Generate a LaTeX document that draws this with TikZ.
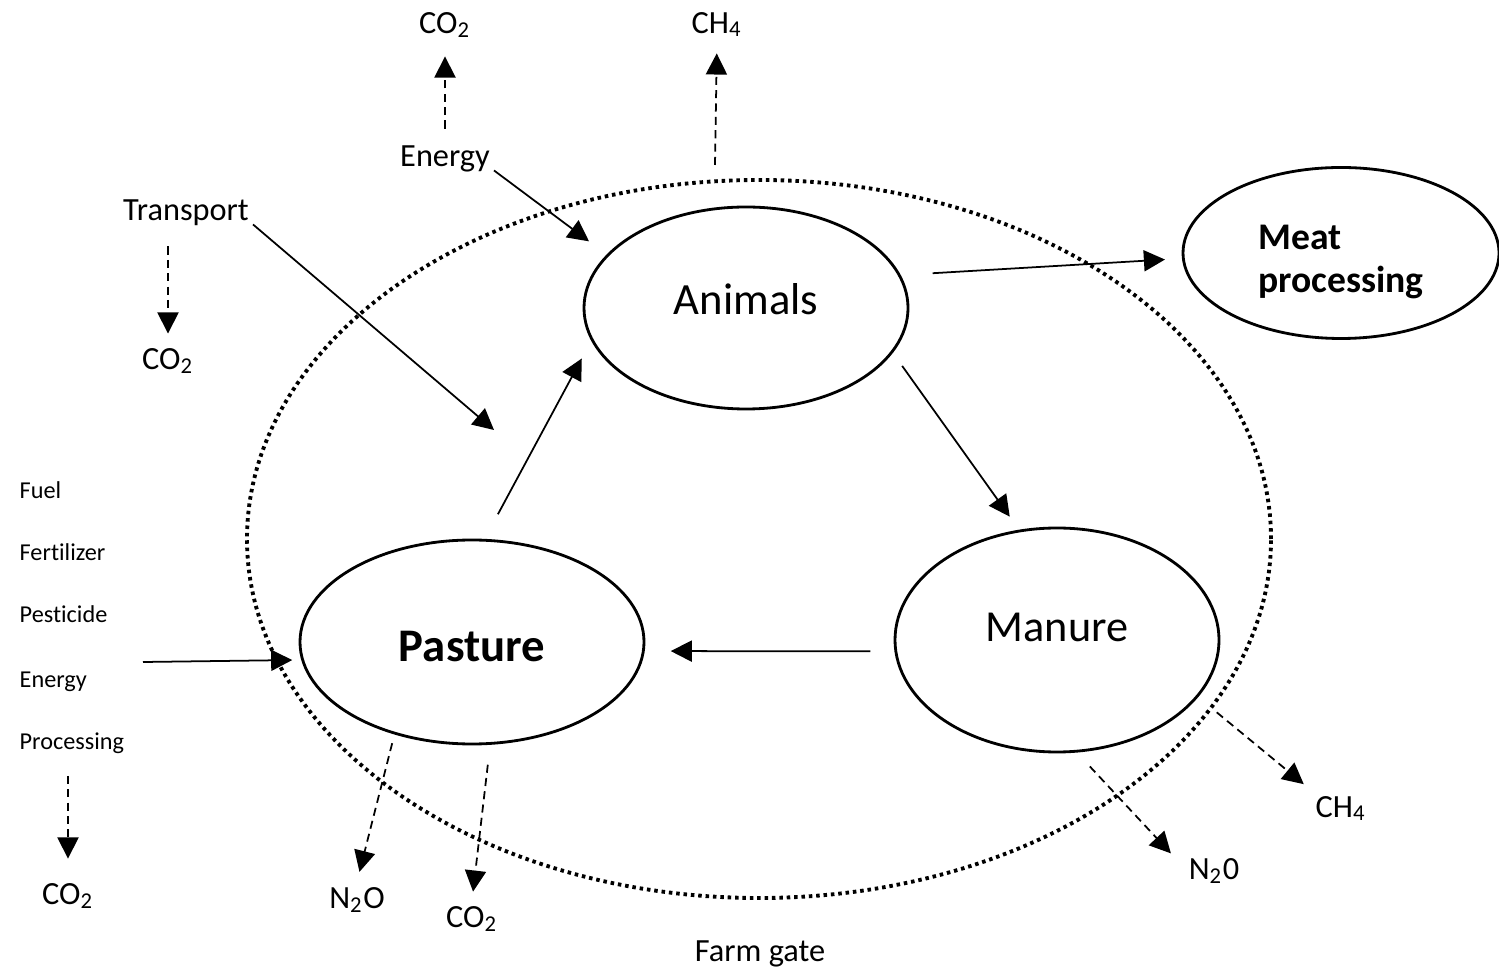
\documentclass[tikz,border=0pt]{standalone}
\usepackage{fontspec}
\setmainfont{Carlito}[Ligatures=NoCommon]
\usetikzlibrary{arrows.meta,shapes.geometric}
\begin{document}
\begin{tikzpicture}[
  lbl/.style={inner sep=1pt, font=\fontsize{9.2}{11}\selectfont, text height=0.64em, text depth=0pt},
  lst/.style={inner sep=0pt, anchor=west, font=\fontsize{6.9}{8}\selectfont, text height=0.64em, text depth=0pt},
  pool/.style={ellipse, draw, line width=0.8pt, inner sep=0pt},
  flow/.style={-{Triangle[length=6pt,width=6pt]}, line width=0.5pt},
  gas/.style={flow, dash pattern=on 2.3pt off 1.5pt},
]
\useasboundingbox (0,0) rectangle (14.99,9.70);
% farm gate boundary
\node[ellipse, draw, minimum width=10.24cm, minimum height=7.18cm, line width=1.1pt, dash pattern=on 1pt off 1.1pt] (farm) at (7.59,4.31) {};
\node[lbl] (gate) at (7.60,0.20) {Farm gate};
% pools
\node[pool, minimum width=3.24cm, minimum height=2.02cm, text depth=0.18cm, font=\fontsize{12.7}{15}\selectfont] (anim) at (7.46,6.62) {Animals};
\node[pool, minimum width=3.44cm, minimum height=2.04cm, text height=0.40cm, text depth=0pt, font=\bfseries\fontsize{13.3}{16}\selectfont] (past) at (4.72,3.28) {Pasture};
\node[pool, minimum width=3.24cm, minimum height=2.24cm, text depth=0.26cm, font=\fontsize{12.6}{15}\selectfont] (man) at (10.57,3.30) {Manure};
\node[pool, minimum width=3.16cm, minimum height=1.71cm] (meat) at (13.41,7.17) {};
\node[inner sep=0pt, align=left, font=\bfseries\fontsize{10.7}{12.5}\selectfont] (meattxt) at ([yshift=-0.09cm]meat.center) {Meat\\processing};
% labels
\node[lbl] (co2a) at (4.45,9.48) {CO\textsubscript{2}};
\node[lbl] (ch4a) at (7.17,9.48) {CH\textsubscript{4}};
\node[lbl] (energy) at (4.45,8.15) {Energy};
\node[lbl] (transport) at (1.86,7.61) {Transport};
\node[lbl] (co2b) at (1.68,6.12) {CO\textsubscript{2}};
\node[lst] (fuel) at (0.19,4.83) {Fuel};
\node[lst] (fert) at (0.19,4.21) {Fertilizer};
\node[lst] (pest) at (0.19,3.59) {Pesticide};
\node[lst] (fenergy) at (0.19,2.94) {Energy};
\node[lst] (proc) at (0.19,2.32) {Processing};
\node[lbl] (co2c) at (0.68,0.77) {CO\textsubscript{2}};
\node[lbl] (n2oa) at (3.57,0.73) {N\textsubscript{2}O};
\node[lbl] (co2d) at (4.72,0.54) {CO\textsubscript{2}};
\node[lbl] (n2ob) at (12.14,1.02) {N\textsubscript{2}0};
\node[lbl] (ch4b) at (13.41,1.64) {CH\textsubscript{4}};
\coordinate (trend) at (4.94,5.40);
\coordinate (ch4src) at (7.15,8.05);
\coordinate (inputs) at (1.43,3.08);
% flows
\draw[flow, shorten >=0.22cm] (energy.south east) -- (anim.159);
\draw[flow] (transport.south east) -- (trend);
\draw[flow, shorten <=0.28cm, shorten >=0.2cm] (past.83) -- (anim.192);
\draw[flow, shorten <=0.16cm, shorten >=0.16cm] (anim.-17) -- (man.109);
\draw[flow, shorten <=0.24cm, shorten >=0.26cm] (man.184) -- (past.-3);
\draw[flow, shorten <=0.32cm, shorten >=0.17cm] (anim.12) -- (meat.182);
\draw[flow, shorten >=0.09cm] (inputs) -- (past.186);
% emissions
\draw[gas, shorten <=0.11cm, shorten >=0.19cm] (energy.north) -- (co2a.south);
\draw[gas, shorten >=0.16cm] (ch4src) -- (ch4a.south);
\draw[gas, shorten <=0.22cm, shorten >=0.09cm] (transport.south -| co2b.north) -- (co2b.north);
\draw[gas, shorten <=0.26cm, shorten >=0.19cm] (proc.south -| co2c.north) -- (co2c.north);
\draw[gas, shorten <=0.09cm, shorten >=0.1cm] (past.230) -- (n2oa.north);
\draw[gas, shorten <=0.2cm, shorten >=0.09cm] (past.-80) -- (co2d.north);
\draw[gas, shorten <=0.19cm, shorten >=0.2cm] (man.-80) -- (n2ob.west);
\draw[gas, shorten <=0.24cm, shorten >=0.1cm] (man.-22) -- (ch4b.north west);
\end{tikzpicture}
\end{document}
